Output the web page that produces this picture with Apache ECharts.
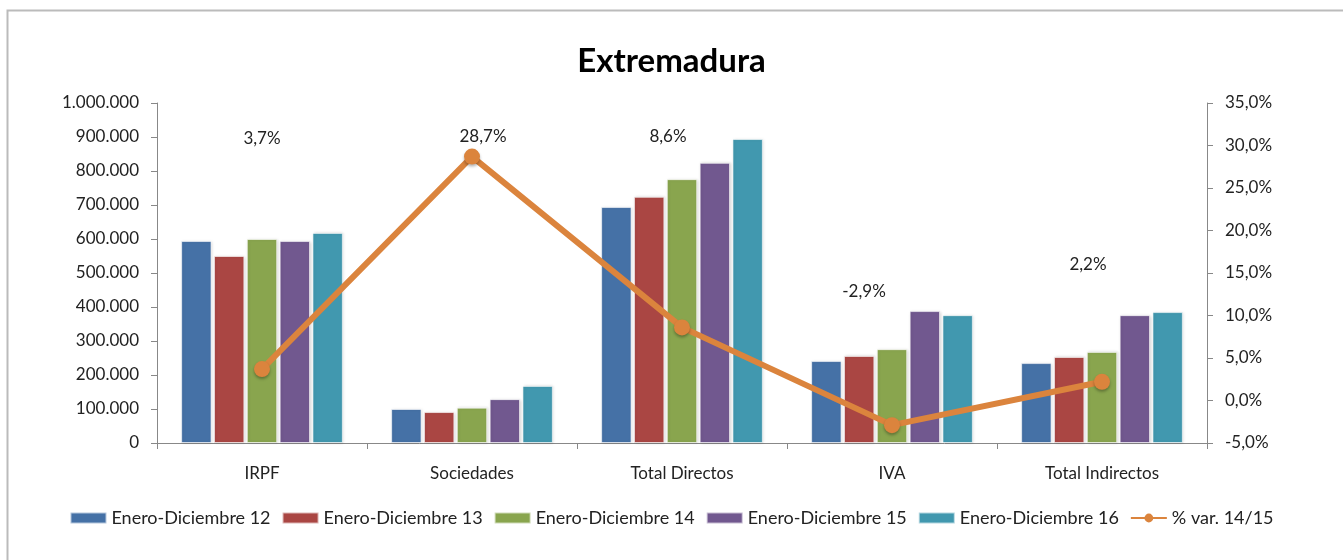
<!DOCTYPE html>
<html>
<head>
<meta charset="utf-8">
<script src="https://cdn.jsdelivr.net/npm/echarts@6/dist/echarts.min.js"></script>
<style>
html,body{margin:0;padding:0;background:#fff}
#chart{width:1343px;height:560px}
</style>
</head>
<body>
<div id="chart"></div>
<script>
// datos
const categorias = ['IRPF', 'Sociedades', 'Total Directos', 'IVA', 'Total Indirectos']
const periodos = ['Enero-Diciembre 12', 'Enero-Diciembre 13', 'Enero-Diciembre 14', 'Enero-Diciembre 15', 'Enero-Diciembre 16']
const ene12 = [594000, 100000, 694000, 241000, 235000]
const ene13 = [550000, 91000, 724000, 256000, 253000]
const ene14 = [600000, 104000, 776000, 276000, 268000]
const ene15 = [594000, 129000, 824000, 388000, 376000]
const ene16 = [618000, 168000, 894000, 376000, 385000]
const varNombre = '% var. 14/15'
const variacion = [3.7, 28.7, 8.6, -2.9, 2.2]

const colores = ['#4571a6', '#aa4643', '#89a54e', '#71588f', '#4198af']
const naranja = '#db843d'
const fuente = 'Lato, "Open Sans", sans-serif'

// desplazamiento de las etiquetas (movidas a mano en el original)
const desplaz = [[0, -231], [11, -20], [-14, -191], [-28, -134], [-14, -117]]

function miles(v){
    return String(Math.round(v)).replace(/\B(?=(\d{3})+(?!\d))/g, '.')
}
function pct(v, dec){
    return v.toFixed(dec).replace('.', ',') + '%'
}

let barras = [ene12, ene13, ene14, ene15, ene16].map((d, i) => ({
    name: periodos[i],
    type: 'bar',
    data: d,
    barGap: '8%',
    barCategoryGap: '23%',
    itemStyle: {
        color: colores[i],
        borderColor: 'rgba(255,255,255,0.6)',
        borderWidth: 1,
        shadowColor: 'rgba(0,0,0,0.15)',
        shadowBlur: 3,
        shadowOffsetX: 1
    }
}))

let linea = {
    name: varNombre,
    type: 'line',
    yAxisIndex: 1,
    data: variacion.map((v, i) => ({
        value: v,
        label: {offset: desplaz[i]}
    })),
    symbol: 'circle',
    symbolSize: 16,
    lineStyle: {color: naranja, width: 6},
    itemStyle: {color: naranja, shadowColor: 'rgba(0,0,0,0.3)', shadowBlur: 3, shadowOffsetY: 2},
    label: {
        show: true,
        position: 'inside',
        color: '#222',
        fontFamily: fuente,
        fontSize: 17,
        formatter: p => pct(p.value, 1)
    },
    z: 5
}

let option = {
    animation: false,
    textStyle: {fontFamily: fuente},
    title: {
        text: 'Extremadura',
        left: 'center',
        top: 40,
        textStyle: {fontSize: 33, fontWeight: 'bold', color: '#000', fontFamily: fuente}
    },
    graphic: [{
        type: 'rect',
        shape: {x: 7.5, y: 10.5, width: 1400, height: 600},
        style: {fill: 'none', stroke: '#bbb', lineWidth: 2}
    }],
    legend: {
        bottom: 28,
        left: 'center',
        itemWidth: 36,
        itemHeight: 11,
        itemGap: 11,
        textStyle: {fontSize: 18, color: '#222', fontFamily: fuente},
        data: periodos.map(n => ({name: n, icon: 'rect'})).concat([{name: varNombre}])
    },
    grid: {left: 157, right: 136, top: 103, bottom: 117},
    xAxis: {
        type: 'category',
        data: categorias,
        axisLine: {lineStyle: {color: '#888'}},
        axisTick: {show: true, alignWithLabel: false, length: 6, lineStyle: {color: '#888'}},
        axisLabel: {fontSize: 17, color: '#222', margin: 22}
    },
    yAxis: [{
        type: 'value',
        min: 0,
        max: 1000000,
        interval: 100000,
        splitLine: {show: false},
        axisLine: {show: true, lineStyle: {color: '#888'}},
        axisTick: {show: true, inside: false, length: 6, lineStyle: {color: '#888'}},
        axisLabel: {fontSize: 17, color: '#222', margin: 18, formatter: v => miles(v)}
    }, {
        type: 'value',
        min: -5,
        max: 35,
        interval: 5,
        splitLine: {show: false},
        axisLine: {show: true, lineStyle: {color: '#888'}},
        axisTick: {show: true, length: 6, lineStyle: {color: '#888'}},
        axisLabel: {fontSize: 17, color: '#222', margin: 18, formatter: v => pct(v, 1)}
    }],
    series: barras.concat([linea])
}

let chartDom = echarts.init(document.querySelector('#chart'))
chartDom.setOption(option)
</script>
</body>
</html>
